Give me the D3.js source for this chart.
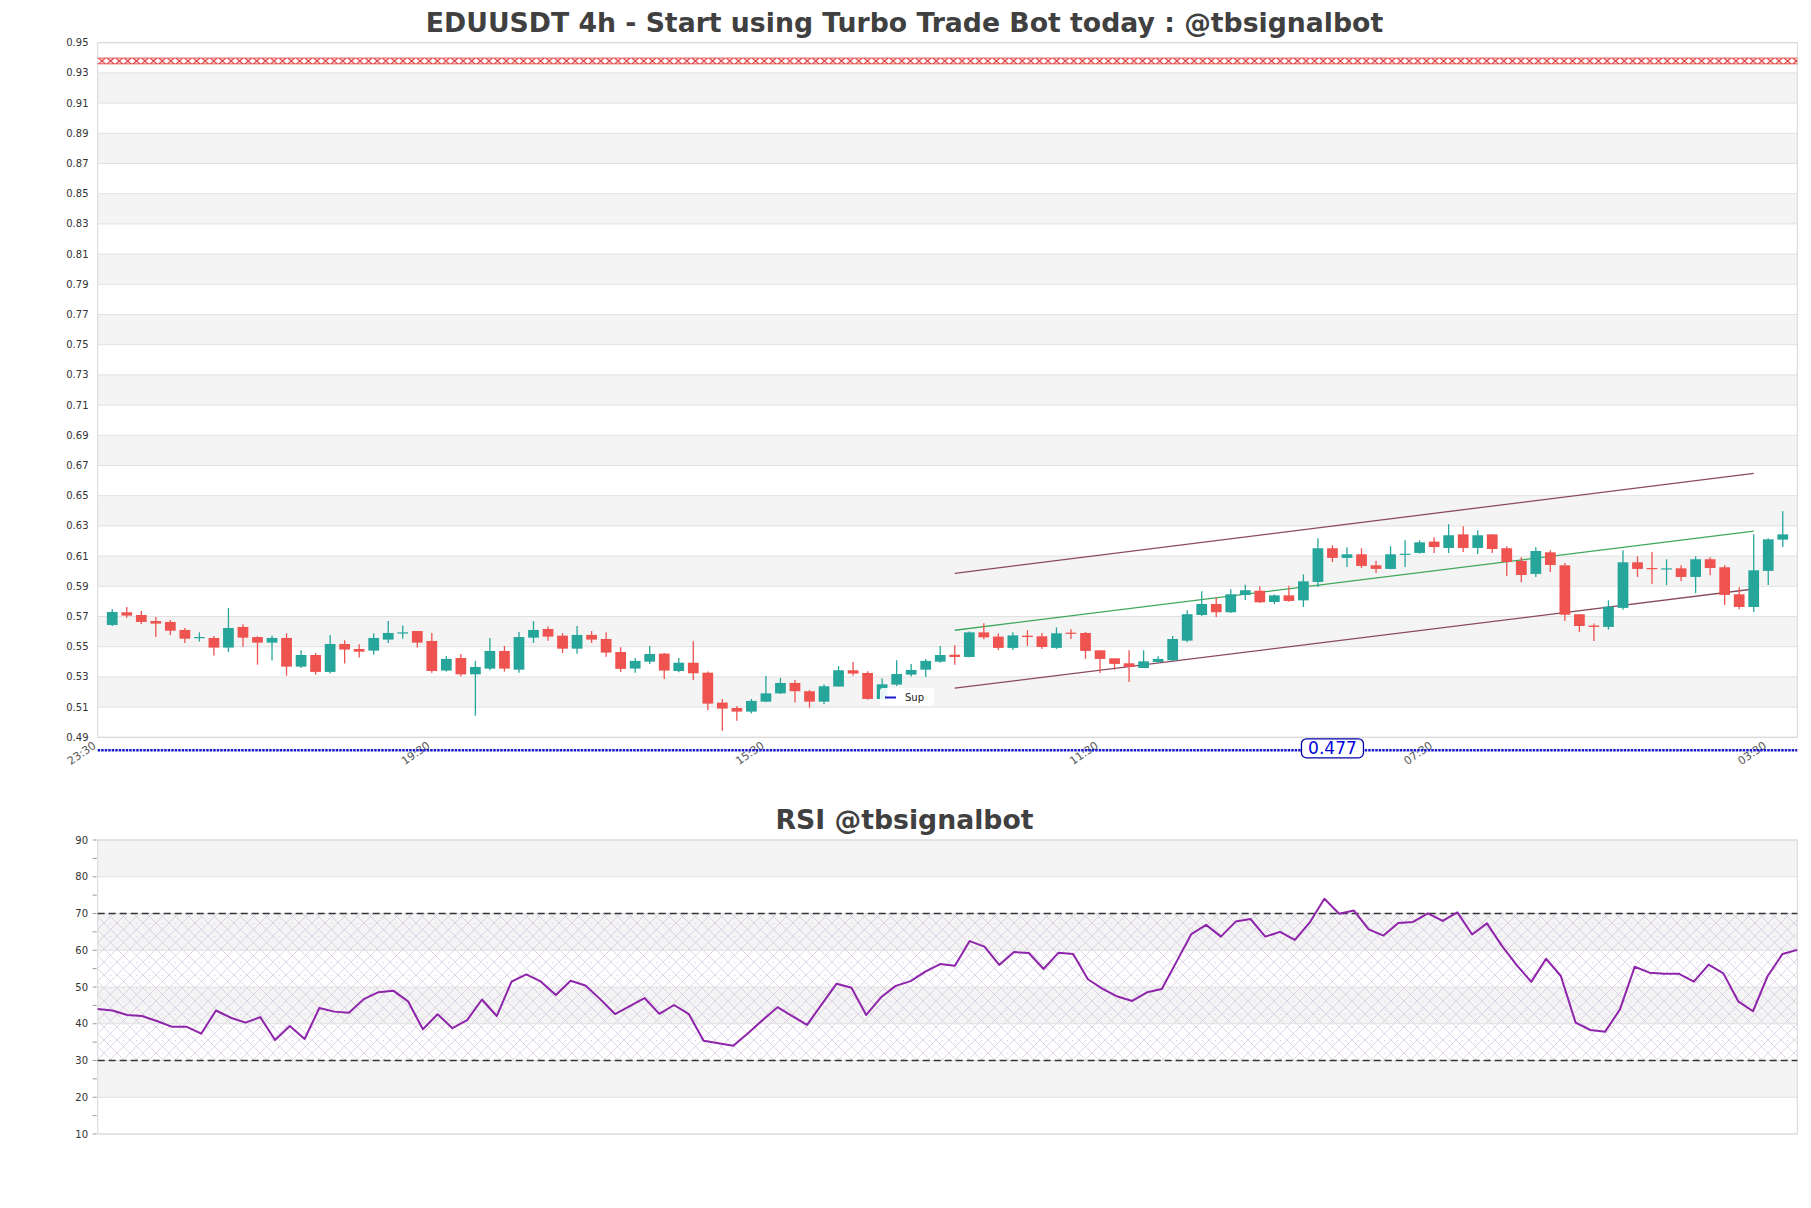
<!DOCTYPE html>
<html><head><meta charset="utf-8">
<script src="https://cdn.jsdelivr.net/npm/d3@7"></script>
<style>body{margin:0;background:#fff;} svg{display:block;font-family:"DejaVu Sans",sans-serif;}</style>
</head><body><svg id="c" width="1811" height="1208"></svg>
<script>
// ---------- DATA ----------
const opens=[.5644,.5728,.5710,.5670,.5664,.5611,.5556,.5558,.5494,.5631,.5564,.5527,.5558,.5368,.5445,.5333,.5518,.5485,.5474,.5547,
.5591,.5604,.5538,.5342,.5425,.5317,.5355,.5472,.5348,.5560,.5617,.5573,.5487,.5578,.5551,.5465,.5355,.5401,.5454,.5339,
.5394,.5328,.5130,.5094,.5070,.5136,.5191,.5260,.5205,.5136,.5236,.5344,.5326,.5154,.5249,.5315,.5348,.5401,.5447,.5432,
.5595,.5567,.5492,.5573,.5569,.5492,.5593,.5591,.5476,.5423,.5390,.5359,.5399,.5410,.5540,.5710,.5783,.5728,.5843,.5871,
.5796,.5840,.5807,.5929,.6152,.6088,.6112,.6039,.6015,.6108,.6121,.6196,.6154,.6244,.6154,.6244,.6152,.6068,.5982,.6125,
.6039,.5715,.5640,.5631,.5757,.6059,.6021,.6011,.6019,.5962,.6079,.6026,.5847,.5763,.6002,.6209];
const highs=[.5750,.5763,.5737,.5697,.5677,.5624,.5595,.5571,.5757,.5648,.5569,.5575,.5589,.5476,.5458,.5578,.5542,.5516,.5589,.5670,
.5640,.5604,.5591,.5439,.5452,.5406,.5558,.5505,.5598,.5670,.5633,.5589,.5637,.5604,.5595,.5496,.5425,.5505,.5458,.5425,
.5536,.5335,.5154,.5108,.5154,.5306,.5293,.5280,.5213,.5249,.5372,.5399,.5337,.5289,.5410,.5386,.5419,.5505,.5509,.5600,
.5655,.5587,.5595,.5609,.5591,.5628,.5615,.5598,.5476,.5423,.5476,.5476,.5436,.5571,.5741,.5867,.5825,.5880,.5911,.5900,
.5845,.5904,.5979,.6218,.6172,.6158,.6152,.6070,.6165,.6205,.6205,.6225,.6311,.6297,.6271,.6244,.6165,.6092,.6158,.6138,
.6055,.5715,.5653,.5807,.6138,.6099,.6127,.6079,.6039,.6099,.6092,.6039,.5893,.6244,.6218,.6397];
const lows=[.5637,.5692,.5651,.5564,.5578,.5525,.5534,.5441,.5465,.5500,.5381,.5408,.5308,.5359,.5315,.5322,.5388,.5428,.5447,.5525,
.5553,.5494,.5328,.5335,.5302,.5043,.5344,.5335,.5328,.5525,.5540,.5458,.5454,.5525,.5434,.5333,.5328,.5386,.5286,.5330,
.5280,.5081,.4944,.5010,.5059,.5132,.5187,.5130,.5096,.5119,.5236,.5308,.5149,.5140,.5240,.5302,.5300,.5394,.5381,.5430,
.5549,.5478,.5478,.5505,.5485,.5485,.5551,.5419,.5326,.5348,.5266,.5359,.5394,.5406,.5529,.5704,.5697,.5723,.5809,.5790,
.5783,.5798,.5763,.5896,.6061,.6028,.6021,.5988,.6013,.6028,.6116,.6121,.6121,.6127,.6114,.6121,.5968,.5926,.5962,.5995,
.5670,.5598,.5538,.5613,.5745,.5962,.5915,.5907,.5935,.5854,.5973,.5776,.5748,.5730,.5909,.6160];
const closes=[.5730,.5706,.5664,.5653,.5606,.5553,.5564,.5494,.5624,.5560,.5527,.5558,.5368,.5445,.5333,.5518,.5481,.5467,.5558,.5591,
.5595,.5527,.5339,.5419,.5317,.5366,.5472,.5355,.5564,.5611,.5567,.5487,.5578,.5547,.5461,.5353,.5406,.5452,.5342,.5394,
.5324,.5123,.5090,.5070,.5141,.5191,.5260,.5205,.5136,.5238,.5344,.5322,.5154,.5251,.5319,.5346,.5406,.5445,.5432,.5595,
.5562,.5492,.5575,.5564,.5498,.5589,.5585,.5472,.5419,.5386,.5366,.5403,.5419,.5551,.5715,.5783,.5728,.5847,.5874,.5794,
.5840,.5803,.5933,.6152,.6088,.6112,.6035,.6015,.6112,.6116,.6191,.6160,.6238,.6154,.6238,.6147,.6061,.5975,.6134,.6041,
.5712,.5637,.5631,.5765,.6059,.6015,.6013,.6019,.5962,.6079,.6021,.5843,.5763,.6006,.6211,.6244];
const rsiValues=[44.0,43.6,42.4,42.1,40.75,39.2,39.2,37.3,43.6,41.65,40.3,41.8,35.6,39.4,35.85,44.3,43.3,43.0,46.7,48.6,
49.0,46.1,38.5,42.6,38.8,41.0,46.6,42.1,51.45,53.45,51.45,47.8,51.7,50.4,46.7,42.65,44.8,47.0,42.7,45.1,
42.6,35.4,34.7,34.0,37.4,41.0,44.5,42.1,39.7,45.35,50.9,49.8,42.4,47.2,50.3,51.6,54.2,56.25,55.8,62.5,
61.0,56.0,59.5,59.25,54.9,59.3,59.0,52.1,49.5,47.4,46.2,48.55,49.45,56.9,64.4,66.9,63.7,67.8,68.5,63.7,
65.0,62.8,67.5,74.0,69.95,70.8,65.7,64.0,67.4,67.7,70.05,68.0,70.3,64.3,67.3,61.25,56.0,51.4,57.7,53.0,
40.3,38.3,37.85,43.9,55.5,53.9,53.6,53.6,51.45,56.1,53.7,46.1,43.4,53.0,59.0,60.1];
const xTickIdx=[-1,22,45,68,91,114];
const xTickLabels=["23:30","19:30","15:30","11:30","07:30","03:30"];
const priceTicks=d3.range(0,24).map(i=>+(0.49+0.02*i).toFixed(2));
const rsiTicks=[10,20,30,40,50,60,70,80,90];
const channelIdx=[58,113];
const channelUpper=[0.5986,0.6648];
const channelMid=[0.5609,0.6266];
const channelLower=[0.5225,0.5882];
const resBand=[0.9360,0.9398];
const supValue=0.477;
const supLabelIdx=84;
const rsiLevels=[70,30];
const titleMain="EDUUSDT 4h - Start using Turbo Trade Bot today : @tbsignalbot";
const titleRsi="RSI @tbsignalbot";

// ---------- LAYOUT ----------
const svg=d3.select('#c');
const M={l:97.7,r:1797.3,t:42.7,b:737.3};
const R={t:840,b:1134};
const x=d3.scaleLinear().domain([-1,116]).range([M.l,M.r]);
const y=d3.scaleLinear().domain([0.49,0.95]).range([M.b,M.t]);
const xr=d3.scaleLinear().domain([0,rsiValues.length-1]).range([M.l,M.r]);
const yr=d3.scaleLinear().domain([10,90]).range([R.b,R.t]);
const GREEN="#26a69a",RED="#ef5350",BAND="#f4f4f4",GRID="#e1e1e1",FRAME="#d8d8d8";

const defs=svg.append('defs');
// resistance hatch
const rTop=y(resBand[1]),rBot=y(resBand[0]),rh=rBot-rTop;
const pr=defs.append('pattern').attr('id','resx').attr('patternUnits','userSpaceOnUse')
 .attr('x',M.l).attr('y',rTop).attr('width',8.6).attr('height',rh);
pr.append('path').attr('d',`M1,0L7.6,${rh}M7.6,0L1,${rh}`).attr('stroke','#dd3030').attr('stroke-width',1.1).attr('fill','none');
// rsi hatch
const ph=defs.append('pattern').attr('id','rsix').attr('patternUnits','userSpaceOnUse')
 .attr('width',13).attr('height',13);
ph.append('path').attr('d','M0,0L13,13M13,0L0,13').attr('stroke','#cbb9d9').attr('stroke-width',0.7).attr('fill','none').attr('opacity',0.85);
ph.append('circle').attr('cx',6.5).attr('cy',0.5).attr('r',0.6).attr('fill','#d6cbe2');

// ---------- MAIN CHART ----------
const g=svg.append('g');
g.append('rect').attr('x',M.l).attr('y',M.t).attr('width',M.r-M.l).attr('height',M.b-M.t).attr('fill','#fff');
g.selectAll('.band').data(d3.range(priceTicks.length-1)).join('rect')
 .attr('x',M.l).attr('width',M.r-M.l)
 .attr('y',i=>y(priceTicks[i+1])).attr('height',i=>y(priceTicks[i])-y(priceTicks[i+1]))
 .attr('fill',i=>i%2?BAND:'#fff');
g.selectAll('.grid').data(priceTicks).join('line')
 .attr('x1',M.l).attr('x2',M.r).attr('y1',d=>y(d)).attr('y2',d=>y(d)).attr('stroke',GRID).attr('stroke-width',1);
g.append('rect').attr('x',M.l).attr('y',M.t).attr('width',M.r-M.l).attr('height',M.b-M.t).attr('fill','none').attr('stroke',FRAME);

g.selectAll('.yl').data(priceTicks).join('text')
 .attr('x',88.5).attr('y',d=>y(d)).attr('text-anchor','end').attr('dominant-baseline','central')
 .attr('font-size',10).attr('fill','#333').text(d=>d.toFixed(2));

g.selectAll('.xl').data(xTickIdx).join('text')
 .attr('transform',d=>`translate(${x(d)-3},${M.b+7}) rotate(-35)`)
 .attr('text-anchor','end').attr('dominant-baseline','central')
 .attr('font-size',11).attr('fill','#555').text((d,i)=>xTickLabels[i]);

// resistance band
g.append('rect').attr('x',M.l).attr('y',rTop).attr('width',M.r-M.l).attr('height',rh).attr('fill','url(#resx)');
[resBand[0],resBand[1]].forEach(v=>g.append('line').attr('x1',M.l).attr('x2',M.r).attr('y1',y(v)).attr('y2',y(v)).attr('stroke','#dd3030').attr('stroke-width',0.8));

// channel lines
const chan=[[channelUpper,'#8a4a5c'],[channelMid,'#3fa75a'],[channelLower,'#8a4a5c']];
chan.forEach(([vals,col])=>{
 g.append('line').attr('x1',x(channelIdx[0])).attr('x2',x(channelIdx[1]))
  .attr('y1',y(vals[0])).attr('y2',y(vals[1])).attr('stroke',col).attr('stroke-width',1.3);
});

// candles
const bw=(x(1)-x(0))*0.74;
const cd=g.append('g').selectAll('g').data(opens.map((o,i)=>({i,o,h:highs[i],l:lows[i],c:closes[i]}))).join('g');
cd.append('line').attr('x1',d=>x(d.i)).attr('x2',d=>x(d.i)).attr('y1',d=>y(d.h)).attr('y2',d=>y(d.l))
 .attr('stroke',d=>d.c>=d.o?GREEN:RED).attr('stroke-width',1.3);
cd.append('rect').attr('x',d=>x(d.i)-bw/2).attr('width',bw)
 .attr('y',d=>y(Math.max(d.o,d.c))).attr('height',d=>Math.max(1.2,Math.abs(y(d.o)-y(d.c))))
 .attr('fill',d=>d.c>=d.o?GREEN:RED);

// support line (below plot area)
const supY=Math.min(y(supValue),M.b+13);
g.append('line').attr('x1',M.l).attr('x2',M.r).attr('y1',supY).attr('y2',supY)
 .attr('stroke','#1a1acc').attr('stroke-width',2.4).attr('stroke-dasharray','2.5,1');
const lx=x(supLabelIdx);
g.append('rect').attr('x',lx-31).attr('y',supY-11.5).attr('width',62).attr('height',19).attr('rx',5)
 .attr('fill','#fff').attr('stroke','#0000aa').attr('stroke-width',1.3);
g.append('text').attr('x',lx).attr('y',supY-2).attr('text-anchor','middle').attr('dominant-baseline','central')
 .attr('font-size',17).attr('fill','#0000dd').text(supValue.toFixed(3));

// legend
const lg=g.append('g').attr('transform','translate(880,688)');
lg.append('rect').attr('width',54).attr('height',18).attr('rx',3).attr('fill','#fff').attr('opacity',0.9);
lg.append('line').attr('x1',5).attr('x2',16).attr('y1',9.5).attr('y2',9.5).attr('stroke','#1a1acc').attr('stroke-width',2);
lg.append('text').attr('x',25).attr('y',9.5).attr('dominant-baseline','central').attr('font-size',10).attr('fill','#222').text('Sup');

svg.append('text').attr('x',(M.l+M.r)/2-43).attr('y',32).attr('text-anchor','middle')
 .attr('font-size',26.7).attr('font-weight','bold').attr('fill','#404040').text(titleMain);

// ---------- RSI ----------
const r=svg.append('g');
r.selectAll('.rb').data(d3.range(rsiTicks.length-1)).join('rect')
 .attr('x',M.l).attr('width',M.r-M.l)
 .attr('y',i=>yr(rsiTicks[i+1])).attr('height',i=>yr(rsiTicks[i])-yr(rsiTicks[i+1]))
 .attr('fill',i=>i%2?BAND:'#fff');
r.append('rect').attr('x',M.l).attr('width',M.r-M.l).attr('y',yr(70)).attr('height',yr(30)-yr(70)).attr('fill','url(#rsix)');
r.selectAll('.rg').data(rsiTicks).join('line')
 .attr('x1',M.l).attr('x2',M.r).attr('y1',d=>yr(d)).attr('y2',d=>yr(d)).attr('stroke',GRID);
r.append('rect').attr('x',M.l).attr('y',R.t).attr('width',M.r-M.l).attr('height',R.b-R.t).attr('fill','none').attr('stroke',FRAME);
r.selectAll('.rl').data(rsiLevels).join('line')
 .attr('x1',M.l).attr('x2',M.r).attr('y1',d=>yr(d)).attr('y2',d=>yr(d))
 .attr('stroke','#333').attr('stroke-width',1.3).attr('stroke-dasharray','7,4');
r.selectAll('.rt').data(d3.range(10,91,5)).join('line')
 .attr('x1',M.l-5).attr('x2',M.l-1).attr('y1',d=>yr(d)).attr('y2',d=>yr(d)).attr('stroke','#999');
r.selectAll('.ryl').data(rsiTicks).join('text')
 .attr('x',88).attr('y',d=>yr(d)).attr('text-anchor','end').attr('dominant-baseline','central')
 .attr('font-size',10).attr('fill','#333').text(d=>d);
r.append('path').datum(rsiValues).attr('fill','none').attr('stroke','#8e24aa').attr('stroke-width',2)
 .attr('stroke-linejoin','round')
 .attr('d',d3.line().x((d,i)=>xr(i)).y(d=>yr(d)));
svg.append('text').attr('x',(M.l+M.r)/2-43).attr('y',829).attr('text-anchor','middle')
 .attr('font-size',26.7).attr('font-weight','bold').attr('fill','#404040').text(titleRsi);
</script></body></html>
